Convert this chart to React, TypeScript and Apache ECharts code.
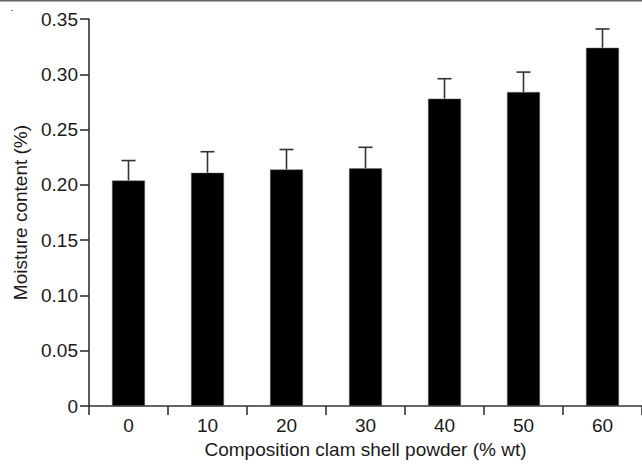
import React, { useEffect, useRef } from "react";
import * as echarts from "echarts";

const categories = ["0", "10", "20", "30", "40", "50", "60"];
const moisture = [0.204, 0.211, 0.214, 0.215, 0.278, 0.284, 0.324];
const errors = [0.018, 0.019, 0.018, 0.019, 0.018, 0.018, 0.017];
const yTicks = { min: 0, max: 0.35, interval: 0.05 };

const FONT = "'Liberation Sans', Arial, Helvetica, sans-serif";

export default function App() {
  const ref = useRef<HTMLDivElement>(null);
  useEffect(() => {
    document.body.style.margin = "0";
    if (!ref.current) return;
    const chart = echarts.init(ref.current, null, { renderer: "svg" });
    const errData = moisture.map((v, i) => [i, v, v + errors[i]]);
    chart.setOption({
      animation: false,
      backgroundColor: "#ffffff",
      textStyle: { fontFamily: FONT },
      grid: { left: 89, top: 19, width: 562, height: 393, containLabel: false },
      xAxis: {
        type: "category",
        data: categories,
        name: "Composition clam shell powder (% wt)",
        nameLocation: "middle",
        nameGap: 33,
        nameTextStyle: { fontSize: 19, color: "#1a1a1a", fontFamily: FONT },
        axisLine: { lineStyle: { color: "#333", width: 1.6 } },
        axisTick: { show: true, length: 9, alignWithLabel: false, lineStyle: { color: "#333", width: 1.6 } },
        axisLabel: { fontSize: 19, color: "#1a1a1a", margin: 10, fontFamily: FONT },
        splitLine: { show: false },
      },
      yAxis: {
        type: "value",
        min: yTicks.min,
        max: yTicks.max,
        interval: yTicks.interval,
        name: "Moisture content (%)",
        nameLocation: "middle",
        nameGap: 55,
        nameRotate: 90,
        nameTextStyle: { fontSize: 19, color: "#1a1a1a", fontFamily: FONT },
        axisLine: { show: true, lineStyle: { color: "#333", width: 1.6 } },
        axisTick: { show: true, length: 9, lineStyle: { color: "#333", width: 1.6 } },
        axisLabel: {
          fontSize: 19,
          color: "#1a1a1a",
          margin: 11,
          fontFamily: FONT,
          formatter: (v: number) => (v === 0 ? "0" : v.toFixed(2)),
        },
        splitLine: { show: false },
      },
      series: [
        {
          type: "bar",
          data: moisture,
          barWidth: 33,
          itemStyle: { color: "#000", borderColor: "#777", borderWidth: 0.5 },
          z: 2,
        },
        {
          type: "custom",
          data: errData,
          z: 1,
          renderItem: (params: any, api: any) => {
            const x = api.value(0);
            const low = api.coord([x, api.value(1)]);
            const high = api.coord([x, api.value(2)]);
            const half = 7;
            const style = { stroke: "#333", lineWidth: 1.6 };
            return {
              type: "group",
              children: [
                { type: "line", shape: { x1: low[0], y1: low[1], x2: high[0], y2: high[1] }, style },
                { type: "line", shape: { x1: high[0] - half, y1: high[1], x2: high[0] + half, y2: high[1] }, style },
              ],
            };
          },
        },
      ],
      graphic: [
        { type: "line", shape: { x1: 0, y1: 0.75, x2: 642, y2: 0.75 }, style: { stroke: "#666", lineWidth: 1.5 } },
        { type: "rect", shape: { x: 11, y: 10, width: 2, height: 1 }, style: { fill: "#888" } },
      ],
    });
    return () => chart.dispose();
  }, []);
  return <div ref={ref} style={{ width: 642, height: 464 }} />;
}
